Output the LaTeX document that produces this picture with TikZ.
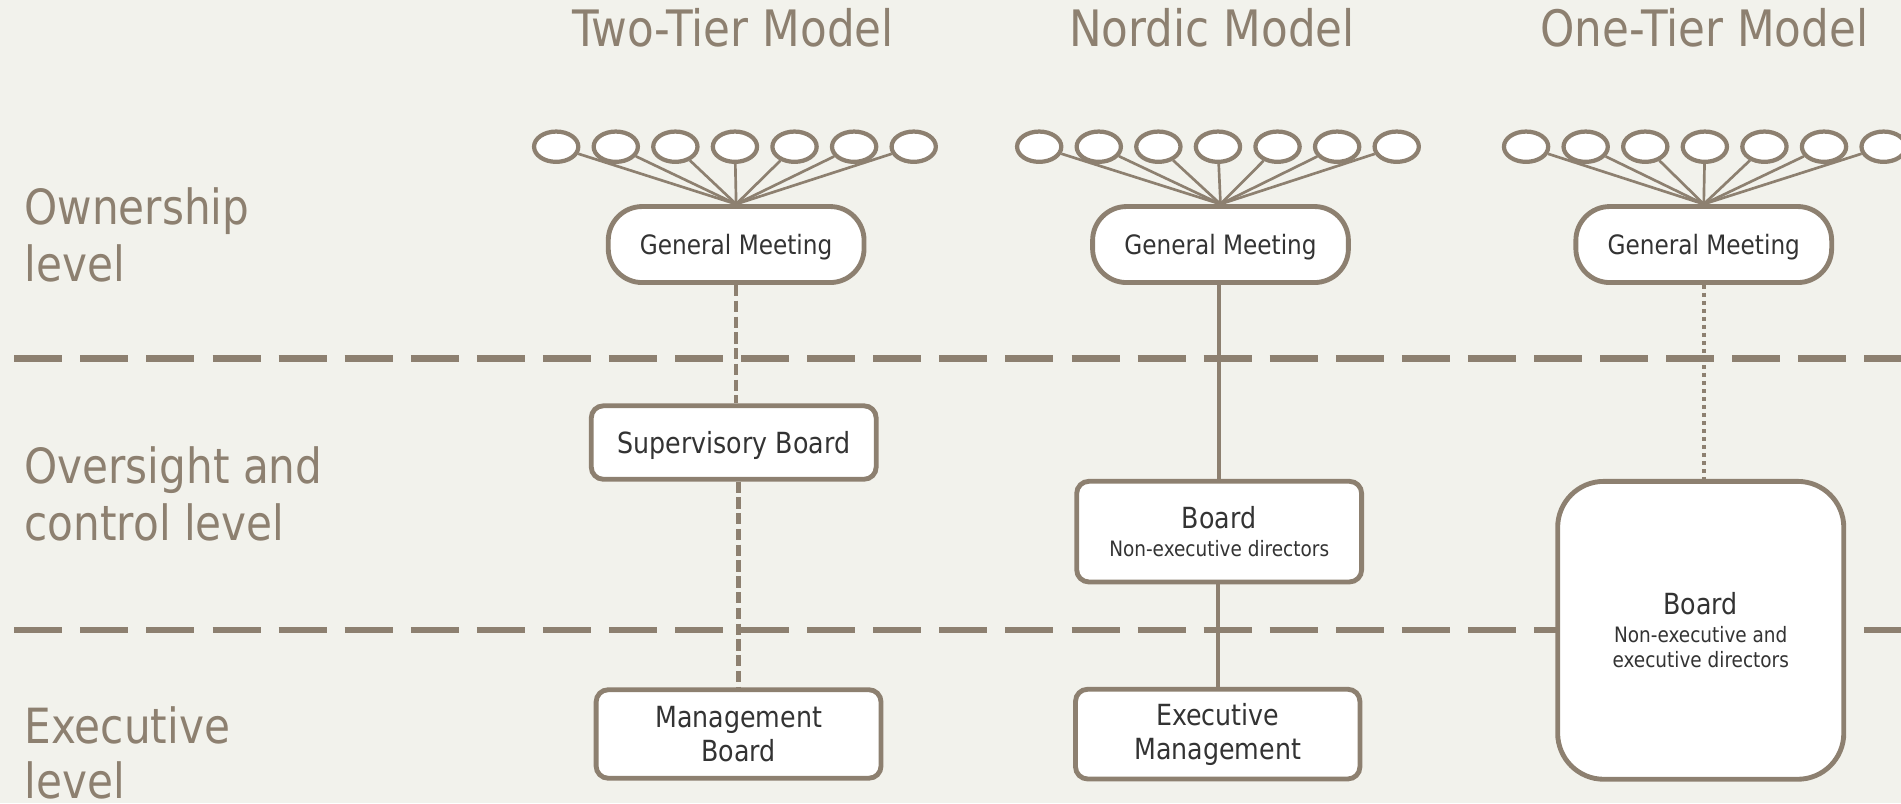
\documentclass[tikz,border=0pt]{standalone}
\usepackage{fontspec}
\setmainfont{DejaVu Sans}[FakeStretch=0.87]
\usetikzlibrary{shapes.geometric}
\definecolor{bgc}{RGB}{242,242,236}
\definecolor{brn}{RGB}{141,128,112}
\definecolor{txt}{RGB}{51,51,51}
\pgfdeclarelayer{bglayer}
\pgfdeclarelayer{linelayer}
\pgfsetlayers{bglayer,linelayer,main}
\newcommand\smallf{\fontsize{17.5}{21.5}\selectfont}
\begin{document}
\begin{tikzpicture}[x=1pt,y=-1pt,
  title/.style={font=\fontsize{41.4}{48}\selectfont, text=brn, inner sep=0pt, anchor=base},
  lvl/.style={font=\fontsize{40}{47.5}\selectfont, text=brn, inner sep=0pt, anchor=base west},
  own/.style={ellipse, draw=brn, line width=3.5pt, fill=white, minimum width=36.5pt, minimum height=25pt, inner sep=0pt},
  gmbox/.style={draw=brn, line width=4pt, fill=white, rounded corners=28pt, minimum width=211pt, minimum height=62.7pt, inner sep=0pt, text=txt, font=\fontsize{22}{26}\selectfont, text height=16pt, text depth=0pt},
  bx/.style={draw=brn, line width=4pt, fill=white, rounded corners=10pt, inner sep=0pt, text=txt, font=\fontsize{24}{28}\selectfont, align=center},
  fan/.style={draw=brn, line width=2.2pt},
  sep/.style={draw=brn, line width=5pt, dash pattern=on 39.6pt off 14.9pt},
  conn/.style={draw=brn, line width=3pt},
  dashconn/.style={conn, line width=3.5pt, dash pattern=on 9.3pt off 3.7pt},
  dotconn/.style={conn, line width=3.5pt, dash pattern=on 3.3pt off 3.3pt},
]
\useasboundingbox (0,0) rectangle (1568,662.4);
\begin{pgfonlayer}{bglayer}
  \fill[bgc] (0,0) rectangle (1568,662.4);
\end{pgfonlayer}

% titles
\node[title] (t1) at (604.5,38.5) {Two-Tier Model};
\node[title] (t2) at (999.7,38.5) {Nordic Model};
\node[title] (t3) at (1405.8,38.5) {One-Tier Model};

% level labels
\node[lvl] (l1a) at (20,185) {Ownership};
\node[lvl] (l1b) at (20,232.5) {level};
\node[lvl] (l2a) at (20,398.5) {Oversight and};
\node[lvl] (l2b) at (20,445.5) {control level};
\node[lvl] (l3a) at (20,613) {Executive};
\node[lvl] (l3b) at (20,659) {level};

% owners
\foreach \g/\cx in {1/606.2, 2/1004.6, 3/1406.2}
  \foreach \i in {1,...,7}
    \node[own] (o\g-\i) at ({\cx+(\i-4)*49.15},121) {};

% general meetings
\node[gmbox] (gm1) at (607.2,201.7) {General Meeting};
\node[gmbox] (gm2) at (1006.7,201.7) {General Meeting};
\node[gmbox] (gm3) at (1405.3,201.7) {General Meeting};

% boards
\node[bx, minimum width=235pt, minimum height=60.6pt, text height=17.5pt, text depth=0pt] (sb) at (605.2,365) {Supervisory Board};
\node[bx, minimum width=235pt, minimum height=73pt] (mb) at (609.2,605.4) {Management\\Board};
\node[bx, minimum width=235pt, minimum height=83pt] (nb) at (1005.6,438.5) {Board\\[-5.2pt]{\smallf Non-executive directors}};
\node[bx, minimum width=234.6pt, minimum height=74pt] (em) at (1004.4,605.5) {Executive\\Management};
\node[bx, minimum width=236pt, minimum height=245.7pt, rounded corners=38pt] (ob) at (1402.8,519.9) {Board\\[-5.3pt]{\smallf Non-executive and}\\[-6.7pt]{\smallf executive directors}};

% separators and connectors
\coordinate (sepL1) at (11.8,295.7);
\coordinate (sepR1) at (1620,295.7);
\coordinate (sepL2) at (11.8,519.8);
\coordinate (sepR2) at (1620,519.8);
\begin{pgfonlayer}{linelayer}
  \draw[sep] (sepL1) -- (sepR1);
  \draw[sep] (sepL2) -- (sepR2);
  \foreach \g in {1,2,3}
    \foreach \i in {1,...,7}
      \draw[fan] (o\g-\i) -- (gm\g.north);
  \draw[dashconn] (gm1.south) -- (gm1.south |- sb.north);
  \draw[dashconn] (mb.north |- sb.south) -- (mb.north);
  \draw[conn] (nb.north |- gm2.south) -- (nb.north);
  \draw[conn] (em.north |- nb.south) -- (em.north);
  \draw[dotconn] (gm3.south) -- (gm3.south |- ob.north);
\end{pgfonlayer}
\end{tikzpicture}
\end{document}
